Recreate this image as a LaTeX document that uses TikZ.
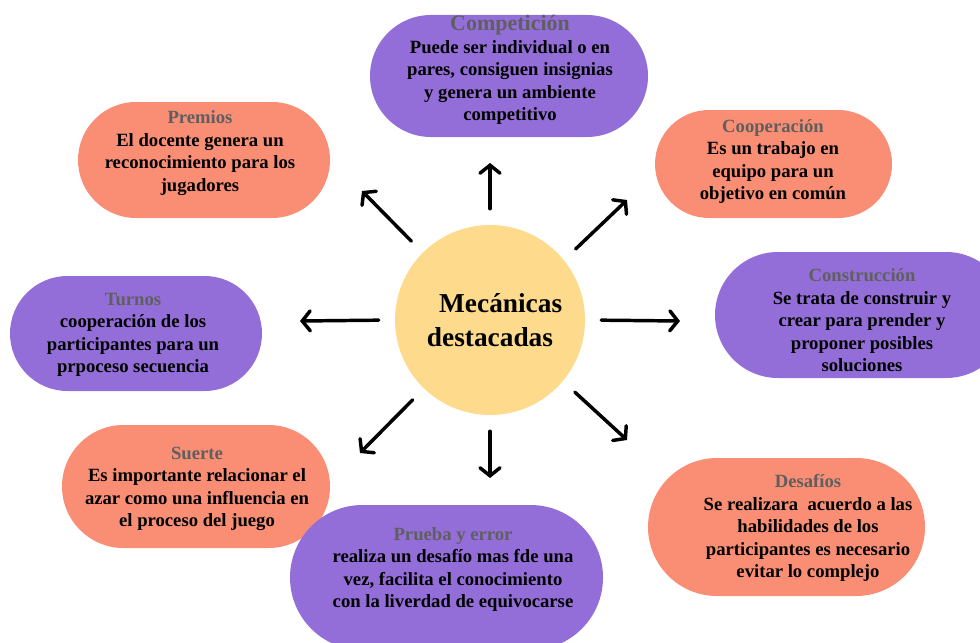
\documentclass[tikz,border=0pt]{standalone}
\usepackage{fontspec}
\setmainfont{Liberation Serif}
\usetikzlibrary{shapes.misc,arrows.meta}

\definecolor{lav}{RGB}{148,110,216}
\definecolor{coral}{RGB}{250,142,117}
\definecolor{sun}{RGB}{254,218,140}
\definecolor{ttl}{RGB}{95,95,95}

\newcommand\ttlof[1]{{\color{ttl}#1}}

\tikzset{
  pill/.style={rounded rectangle, draw=none, inner sep=0pt},
  sz/.style 2 args={minimum width=#1*0.75pt, minimum height=#2*0.75pt},
  txt/.style={align=center, inner sep=0pt,
    font=\bfseries\fontsize{14}{16.9}\selectfont},
  ray/.style={line width=2.6pt, line cap=round,
    -{Straight Barb[length=6pt,width=15pt,line cap=round]}, shorten <=12pt},
}

\begin{document}
\begin{tikzpicture}[x=0.75pt, y=-0.75pt]
\useasboundingbox (0,0) rectangle (980,642);
\clip (0,0) rectangle (980,642);

% rounded boxes
\node[pill, fill=lav,   sz={278}{122}] (comp) at (509,76)    {};
\node[pill, fill=coral, sz={252}{116}] (prem) at (204,160)   {};
\node[pill, fill=coral, sz={237}{108}] (coop) at (773.5,164) {};
\node[pill, fill=lav,   sz={252}{115}] (turn) at (136,333.5) {};
\node[pill, fill=lav,   sz={294}{126}] (cons) at (862,315)   {};
\node[pill, fill=coral, sz={268}{123}] (suer) at (196,486.5) {};
\node[pill, fill=coral, sz={277}{138}] (desa) at (786.5,527) {};
\node[pill, fill=lav,   sz={313}{145}] (prue) at (446.5,577.5) {};

% box texts
\node[txt] (compT) at (510,70)
  {{\fontsize{16.5}{16.9}\selectfont\ttlof{Competición}}\\Puede ser individual o en\\pares, consiguen insignias\\y genera un ambiente\\competitivo};
\node[txt] (premT) at (200,153)
  {\ttlof{Premios}\\El docente genera un\\reconocimiento para los\\jugadores};
\node[txt] (coopT) at (773,161.5)
  {\ttlof{Cooperación}\\Es un trabajo en\\equipo para un\\objetivo en común};
\node[txt] (turnT) at (133,335)
  {\ttlof{Turnos}\\cooperación de los\\participantes para un\\prpoceso secuencia};
\node[txt] (consT) at (862,320.5)
  {\ttlof{Construcción}\\Se trata de construir y\\crear para prender y\\proponer posibles\\soluciones};
\node[txt] (suerT) at (197,489)
  {\ttlof{Suerte}\\Es importante relacionar el\\azar como una influencia en\\el proceso del juego};
\node[txt] (desaT) at (808,528)
  {\ttlof{Desafíos}\\Se realizara\ \ acuerdo a las\\habilidades de los\\participantes es necesario\\evitar lo complejo};
\node[txt] (prueT) at (453,569.5)
  {\ttlof{Prueba y error}\\realiza un desafío mas fde una\\vez, facilita el conocimiento\\con la liverdad de equivocarse};

% central circle
\node[circle, fill=sun, minimum size=190*0.75pt, inner sep=0pt,
      align=center, font=\bfseries\fontsize{20.5}{25}\selectfont] (hub) at (490,320)
  {\hspace*{16pt}Mecánicas\\destacadas};

% arrow tips
\coordinate (tN)  at (490,163);
\coordinate (tNW) at (362,191);
\coordinate (tNE) at (627,200);
\coordinate (tW)  at (300,321);
\coordinate (tE)  at (680,321);
\coordinate (tSW) at (360,453);
\coordinate (tSE) at (627,440);
\coordinate (tS)  at (490,478);

% arrows
\draw[ray] (hub.north) -- (tN);
\draw[ray] (hub.135)   -- (tNW);
\draw[ray] (hub.39)    -- (tNE);
\draw[ray] (hub.west)  -- (tW);
\draw[ray] (hub.east)  -- (tE);
\draw[ray] (hub.-134)  -- (tSW);
\draw[ray] (hub.-40)   -- (tSE);
\draw[ray] (hub.south) -- (tS);
\end{tikzpicture}
\end{document}
